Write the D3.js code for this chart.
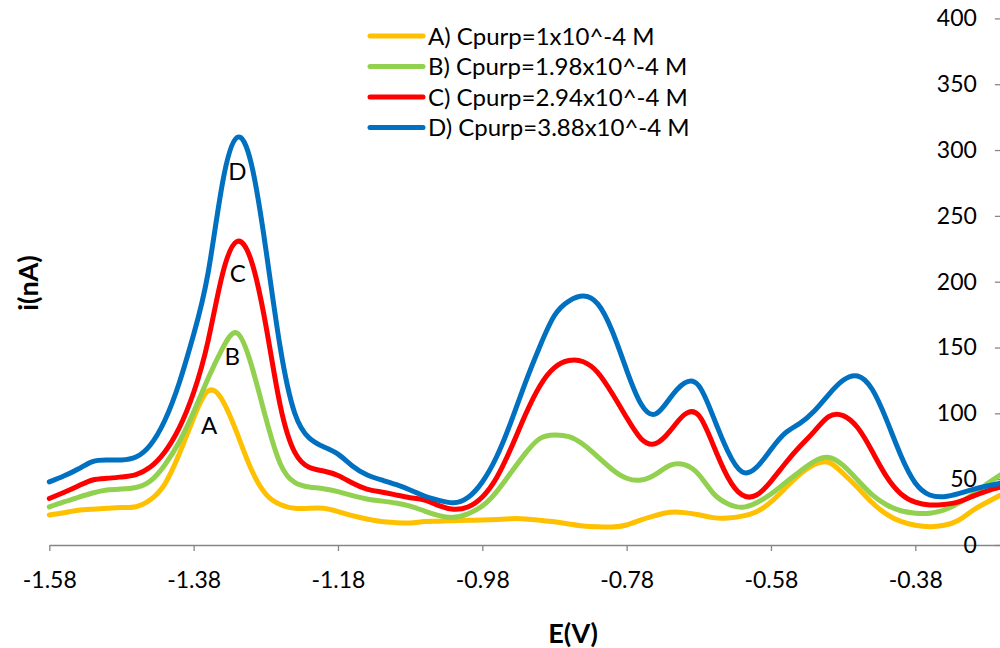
<!DOCTYPE html>
<html>
<head>
<meta charset="utf-8">
<script src="https://cdn.jsdelivr.net/npm/d3@7"></script>
<style>
  body { margin: 0; background: #fff; }
  svg { display: block; font-family: Lato, "Open Sans", sans-serif; }
  .axis path, .axis line { stroke: #868686; stroke-width: 1.3px; }
  .axis text { font-size: 23px; fill: #000; font-family: Lato, "Open Sans", sans-serif; }
  .trace { fill: none; stroke-width: 5px; stroke-linejoin: round; stroke-linecap: round; }
  .legend text { font-size: 24px; fill: #000; }
  .peak { font-size: 24px; fill: #000; }
  .title { font-size: 27px; font-weight: bold; fill: #000; }
</style>
</head>
<body>
<script>
'use strict'

const voltage = [
  -1.58, -1.56, -1.54, -1.52, -1.50, -1.48, -1.46, -1.44, -1.42, -1.40,
  -1.38, -1.36, -1.34, -1.32, -1.30, -1.28, -1.26, -1.24, -1.22, -1.20,
  -1.18, -1.16, -1.14, -1.12, -1.10, -1.08, -1.06, -1.04, -1.02, -1.00,
  -0.98, -0.96, -0.94, -0.92, -0.90, -0.88, -0.86, -0.84, -0.82, -0.80,
  -0.78, -0.76, -0.74, -0.72, -0.70, -0.68, -0.66, -0.64, -0.62, -0.60,
  -0.58, -0.56, -0.54, -0.52, -0.50, -0.48, -0.46, -0.44, -0.42, -0.40,
  -0.38, -0.36, -0.34, -0.32, -0.30, -0.28, -0.26
]

const seriesA = [
  22.8, 24.5, 26.4, 27.2, 27.9, 28.5, 29.1, 34.4, 46.3, 69.1,
  96.5, 117.0, 109.8, 85.1, 57.3, 38.7, 30.8, 27.9, 27.9, 27.9,
  25.4, 22.3, 19.8, 17.9, 17.0, 16.7, 17.8, 18.1, 18.5, 18.8,
  19.0, 19.4, 20.0, 19.8, 18.8, 17.6, 16.0, 14.4, 13.8, 13.7,
  15.2, 19.1, 22.4, 24.8, 24.6, 23.0, 20.8, 20.5, 21.9, 25.3,
  32.7, 43.3, 53.7, 61.1, 62.7, 54.3, 43.6, 32.3, 23.5, 17.9,
  15.0, 13.9, 15.0, 18.8, 26.4, 32.7, 38.5
]

const seriesB = [
  28.9, 32.7, 36.2, 39.5, 41.8, 42.5, 43.7, 48.6, 60.8, 78.2,
  101.0, 126.5, 149.3, 161.0, 136.7, 96.5, 61.8, 47.6, 44.1, 42.8,
  40.6, 37.5, 35.0, 33.4, 31.9, 29.6, 25.8, 22.3, 21.0, 23.7,
  29.6, 40.6, 55.2, 69.8, 80.9, 83.6, 82.3, 76.3, 67.0, 57.4,
  50.7, 49.3, 53.6, 60.5, 61.0, 53.5, 39.3, 31.4, 28.7, 32.1,
  38.7, 47.4, 55.9, 63.5, 66.5, 60.5, 49.4, 38.3, 30.6, 26.0,
  24.2, 24.1, 26.6, 31.8, 38.5, 46.6, 53.9
]

const seriesC = [
  35.3, 39.9, 44.8, 49.4, 50.7, 51.7, 53.5, 59.2, 70.6, 88.9,
  115.8, 155.0, 205.8, 230.5, 215.7, 167.1, 106.0, 70.6, 59.1, 56.2,
  52.8, 47.1, 42.5, 40.3, 38.1, 35.9, 34.2, 29.9, 27.2, 28.9,
  36.5, 51.3, 73.8, 99.3, 121.0, 134.7, 140.1, 139.2, 131.0, 115.1,
  96.8, 80.8, 77.0, 86.5, 99.0, 98.5, 76.0, 51.7, 38.0, 38.0,
  48.4, 62.1, 74.8, 86.3, 97.5, 98.3, 89.2, 71.4, 52.1, 38.9,
  32.5, 30.4, 30.8, 32.7, 37.1, 41.2, 44.3
]

const seriesD = [
  47.9, 52.4, 57.7, 63.4, 64.6, 64.6, 66.8, 76.0, 94.6, 123.1,
  159.9, 206.6, 275.0, 309.5, 289.4, 225.0, 150.0, 100.3, 81.4, 74.6,
  69.0, 60.0, 53.3, 49.4, 46.0, 41.8, 37.2, 33.9, 32.1, 36.1,
  47.9, 67.2, 93.9, 123.8, 151.2, 174.3, 185.3, 189.1, 183.1, 162.5,
  132.9, 107.1, 99.5, 111.5, 123.0, 121.0, 97.5, 71.4, 55.5, 59.0,
  72.5, 85.1, 92.4, 101.8, 114.3, 125.1, 128.4, 118.5, 95.2, 68.0,
  47.1, 38.0, 36.7, 39.0, 42.2, 44.8, 47.1
]

const seriesNames = [
  'A) Cpurp=1x10^-4 M',
  'B) Cpurp=1.98x10^-4 M',
  'C) Cpurp=2.94x10^-4 M',
  'D) Cpurp=3.88x10^-4 M'
]
const seriesColors = ['#FFC000', '#92D050', '#FF0000', '#0070C0']

const peakLabels = ['A', 'B', 'C', 'D']
const peakVoltage = [-1.3587, -1.3264, -1.3189, -1.3194]
const peakCurrent = [91.1, 143.6, 206.4, 283.6]

const xTicks = [-1.58, -1.38, -1.18, -0.98, -0.78, -0.58, -0.38]
const yTicks = [0, 50, 100, 150, 200, 250, 300, 350, 400]

const width = 1000
const height = 648

const x = d3.scaleLinear()
  .domain([-1.58, -0.26])
  .range([49.3, 1001.9])

const y = d3.scaleLinear()
  .domain([0, 400])
  .range([545, 18.4])

const series = [seriesA, seriesB, seriesC, seriesD].map((values, i) => ({
  name: seriesNames[i],
  color: seriesColors[i],
  points: values.map((v, j) => ({ e: voltage[j], i: v }))
}))

const svg = d3.select('body').append('svg')
    .attr('width', width)
    .attr('height', height)

svg.append('g')
    .attr('class', 'x axis')
    .attr('transform', 'translate(0,' + y(0) + ')')
    .call(d3.axisBottom(x)
      .tickValues(xTicks)
      .tickFormat(d => d.toFixed(2))
      .tickSize(6)
      .tickSizeOuter(0)
      .tickPadding(21))

svg.append('g')
    .attr('class', 'y axis')
    .attr('transform', 'translate(' + x(-0.26) + ',0)')
    .call(d3.axisLeft(y)
      .tickValues(yTicks)
      .tickSize(7)
      .tickSizeOuter(0)
      .tickPadding(18))

const line = d3.line()
  .x(d => x(d.e))
  .y(d => y(d.i))
  .curve(d3.curveNatural)

svg.selectAll('.trace')
    .data(series)
  .enter().append('path')
    .attr('class', 'trace')
    .attr('d', s => line(s.points))
    .style('stroke', s => s.color)

svg.selectAll('.peak')
    .data(peakLabels)
  .enter().append('text')
    .attr('class', 'peak')
    .attr('x', (d, i) => x(peakVoltage[i]))
    .attr('y', (d, i) => y(peakCurrent[i]))
    .attr('dy', '.36em')
    .style('text-anchor', 'middle')
    .text(d => d)

const legend = svg.selectAll('.legend')
    .data(series)
  .enter().append('g')
    .attr('class', 'legend')
    .attr('transform', (d, i) => 'translate(370,' + (36 + i * 30.5) + ')')

legend.append('line')
    .attr('x1', 0)
    .attr('x2', 53)
    .style('stroke', d => d.color)
    .style('stroke-width', 5)
    .style('stroke-linecap', 'round')

legend.append('text')
    .attr('x', 58)
    .attr('dy', '.36em')
    .text(d => d.name)

svg.append('text')
    .attr('class', 'title')
    .attr('x', 573)
    .attr('y', 643)
    .style('text-anchor', 'middle')
    .text('E(V)')

svg.append('text')
    .attr('class', 'title')
    .attr('transform', 'translate(28,283) rotate(-90)')
    .attr('dy', '.36em')
    .style('text-anchor', 'middle')
    .text('i(nA)')
</script>
</body>
</html>
